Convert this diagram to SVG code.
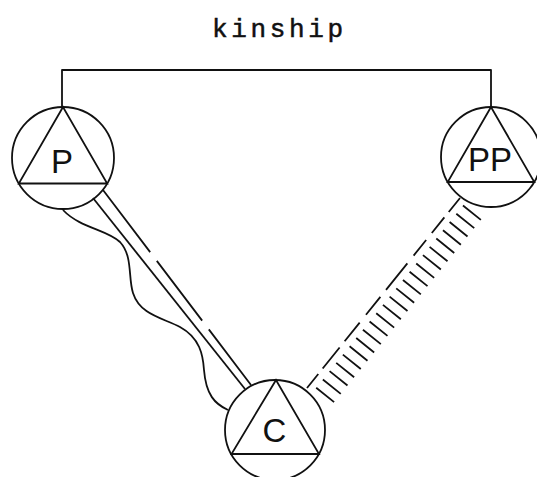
<svg xmlns="http://www.w3.org/2000/svg" width="537" height="477" viewBox="0 0 537 477">
<style>
.ln{fill:none;stroke:#111;stroke-width:1.8;stroke-linecap:butt;stroke-linejoin:round}
.node circle,.node polygon{fill:none;stroke:#111;stroke-width:1.8}
.lbl{font-family:"Liberation Sans",Arial,sans-serif;font-size:33px;fill:#111;text-anchor:middle}
.title{font-family:"Liberation Mono","Courier New",monospace;font-size:26px;fill:#111;stroke:#111;stroke-width:0.5}
</style>
<rect width="537" height="477" fill="#fff"/>
<text class="title" x="212" y="37" textLength="131" lengthAdjust="spacing">kinship</text>
<g id="connectors">
<polyline class="ln" points="62,107 62,70 491,70 491,107"/>
<line class="ln" x1="93" y1="198" x2="245" y2="389"/>
<line class="ln" x1="103" y1="190" x2="251" y2="385" stroke-dasharray="78 11 75 11"/>
<path class="ln" d="M63,210 C80,228 108,230 120,242 C133,256 128,278 133,293 C140,315 163,318 180,327 C200,338 203,355 204,370 C206,395 215,404 228,410"/>
<g transform="translate(307,388) rotate(-51.16)">
<line class="ln" x1="0" y1="0" x2="244" y2="0" stroke-dasharray="18 7 27 8 24 10 23 9 34 10 20 9 20 7 18"/>
<path class="ln" d="M6,7V30M16.6,7V30M27.3,7V30M37.9,7V30M48.5,7V30M59.2,7V30M69.8,7V30M80.5,7V30M91.1,7V30M101.7,7V30M112.4,7V30M123,7V30M133.6,7V30M144.3,7V30M154.9,7V30M165.5,7V30M176.2,7V30M186.8,7V30M197.5,7V30M208.1,7V30M218.7,7V30M229.4,7V30M240,7V30"/>
</g>
</g>
<g id="node-P" class="node">
<circle cx="63" cy="158" r="51"/>
<polygon points="63,107 18.8,183.5 107.2,183.5"/>
<text class="lbl" x="62" y="172.5">P</text>
</g>
<g id="node-PP" class="node">
<circle cx="491" cy="157" r="50"/>
<polygon points="491,107 447.7,182 534.3,182"/>
<text class="lbl" x="490" y="171">PP</text>
</g>
<g id="node-C" class="node">
<circle cx="275" cy="430" r="50"/>
<polygon points="276,380 231.5,454 319,454"/>
<text class="lbl" x="274.5" y="441.5">C</text>
</g>
</svg>
